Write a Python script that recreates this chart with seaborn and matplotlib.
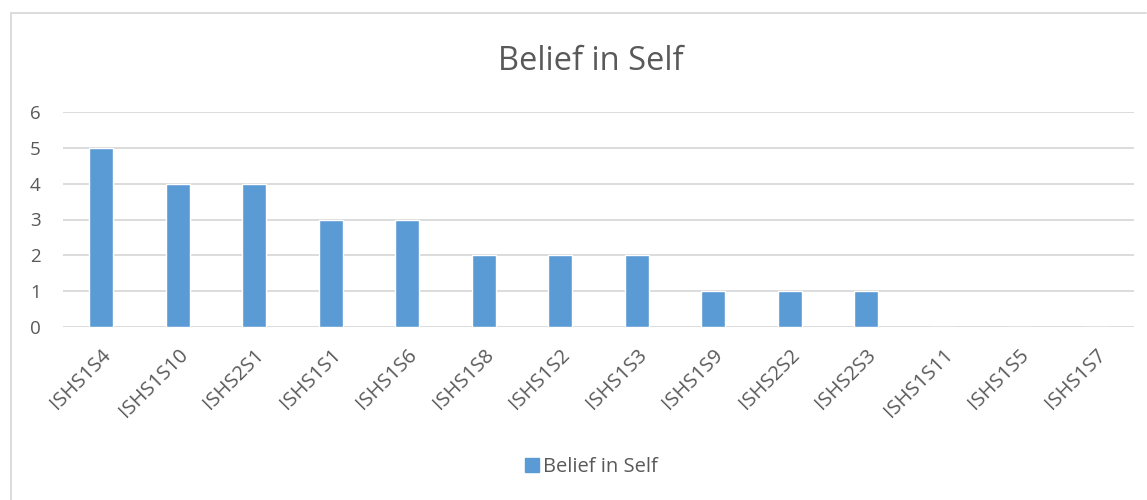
import matplotlib
matplotlib.use("Agg")
import matplotlib.pyplot as plt
from matplotlib.lines import Line2D
import seaborn as sns
import pandas as pd

categories = ["ISHS1S4", "ISHS1S10", "ISHS2S1", "ISHS1S1", "ISHS1S6", "ISHS1S8",
              "ISHS1S2", "ISHS1S3", "ISHS1S9", "ISHS2S2", "ISHS2S3", "ISHS1S11",
              "ISHS1S5", "ISHS1S7"]
values = [5, 4, 4, 3, 3, 2, 2, 2, 1, 1, 1, 0, 0, 0]
series_name = "Belief in Self"
yticks = [0, 1, 2, 3, 4, 5, 6]

BAR = "#5B9BD5"
TEXT = "#595959"
GRID = "#D9D9D9"
FONT = ["Open Sans", "DejaVu Sans"]

sns.set_theme(style="white")
plt.rcParams["font.family"] = FONT

df = pd.DataFrame({"item": categories, "score": values})

fig = plt.figure(figsize=(11.47, 5.0), dpi=100)
ax = fig.add_axes([63 / 1147, 1 - 327 / 500, (1134 - 63) / 1147, (327 - 112) / 500])

sns.barplot(data=df, x="item", y="score", color=BAR, width=0.31,
            saturation=1, ax=ax, zorder=3)

ax.set_ylim(0, 6)
ax.set_xlim(-0.5, len(categories) - 0.5)
ax.set_yticks(yticks)
ax.yaxis.grid(True, color=GRID, linewidth=1.3, zorder=0)
ax.set_axisbelow(True)
for s in ax.spines.values():
    s.set_visible(False)
ax.set_xlabel("")
ax.set_ylabel("")
ax.tick_params(axis="y", length=0, pad=16, labelsize=13.5, labelcolor=TEXT)
ax.tick_params(axis="x", length=0, pad=13, labelsize=14.5, labelcolor=TEXT)
for lab in ax.get_xticklabels():
    lab.set_rotation(45)
    lab.set_ha("right")
    lab.set_rotation_mode("anchor")

fig.text(0.515, 1 - 61 / 500, series_name, ha="center", va="center",
         fontsize=23.5, color=TEXT)

# legend entry below the axis labels
handle = Line2D([], [], marker="s", linestyle="none", markersize=10,
                markerfacecolor=BAR, markeredgecolor=BAR)
fig.legend([handle], [series_name], loc="center", bbox_to_anchor=(591 / 1147, 1 - 467 / 500),
           frameon=False, fontsize=14.5, labelcolor=TEXT, handlelength=0.75,
           handletextpad=0.2, borderaxespad=0)

# outer chart-area frame (left and top edges)
fig.add_artist(Line2D([10.5 / 1147, 10.5 / 1147], [0, 1 - 13 / 500],
                      transform=fig.transFigure, color=GRID, linewidth=1.3))
fig.add_artist(Line2D([10.5 / 1147, 1146 / 1147], [1 - 13 / 500, 1 - 13 / 500],
                      transform=fig.transFigure, color=GRID, linewidth=1.3))

fig.savefig("out.png", dpi=100, facecolor="white")
